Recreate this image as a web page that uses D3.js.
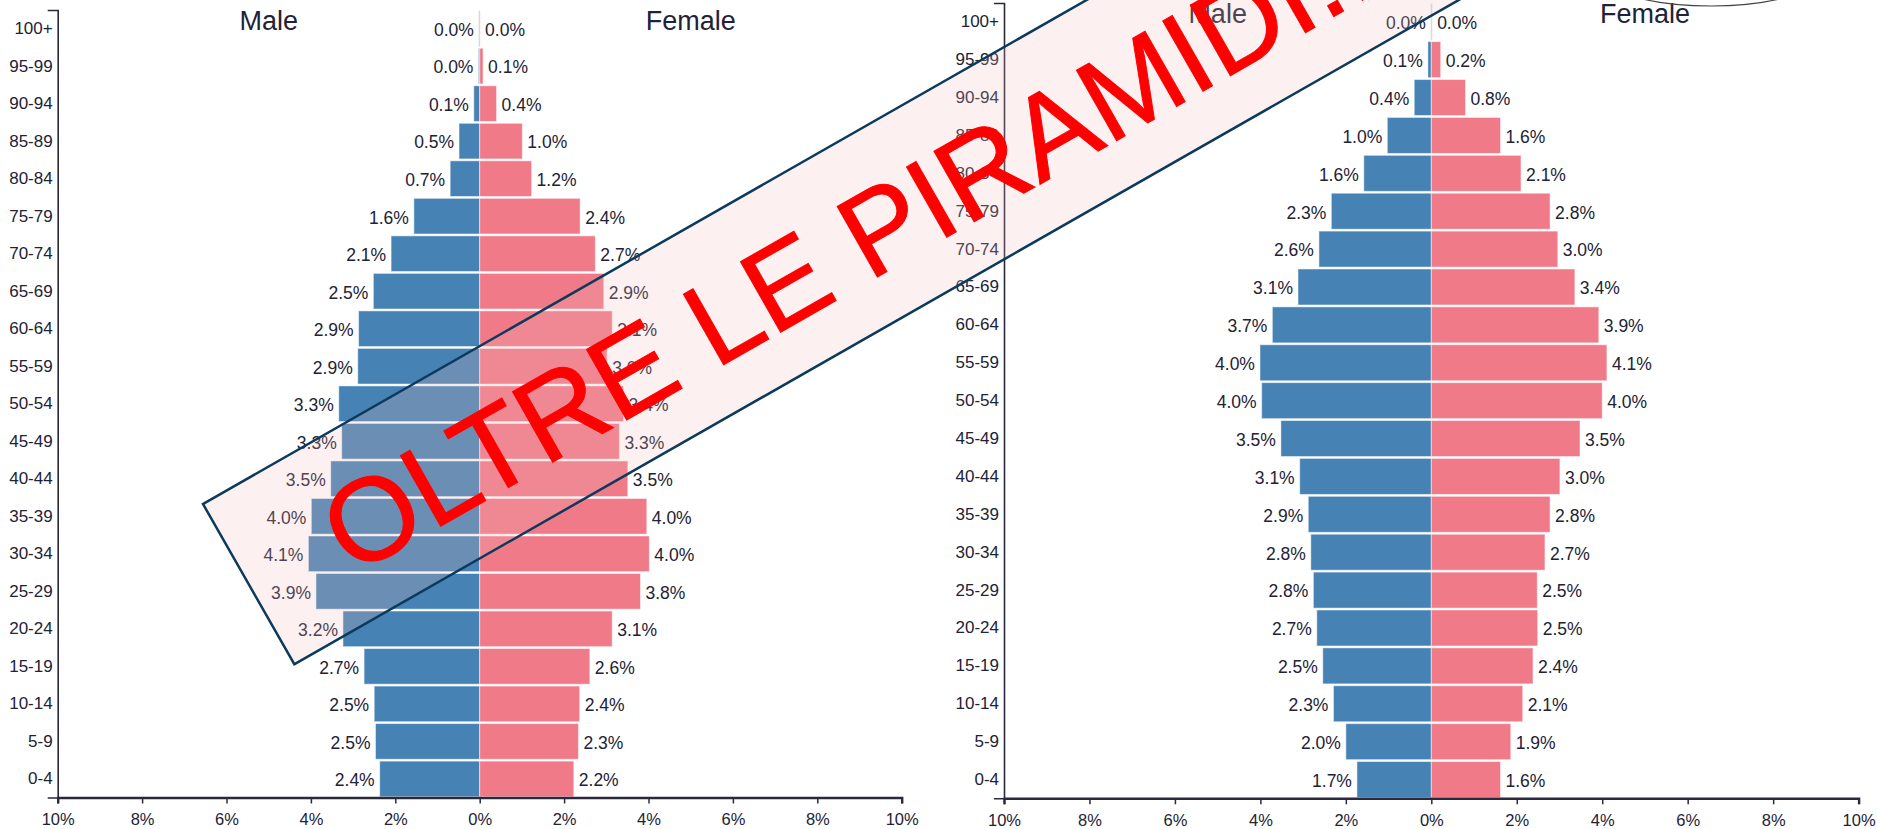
<!DOCTYPE html>
<html>
<head>
<meta charset="utf-8">
<script src="https://cdn.jsdelivr.net/npm/d3@7"></script>
<style>
  body { margin: 0; background: #fff; }
  svg { display: block; font-family: "Liberation Sans", Arial, sans-serif; }
  .axis path, .axis line { stroke: #2a2a3c; }
  .axis text { fill: #222236; }
</style>
</head>
<body>
<div id="chart"></div>
<script>
// age groups, top row first
const ages = ["100+", "95-99", "90-94", "85-89", "80-84", "75-79", "70-74", "65-69",
  "60-64", "55-59", "50-54", "45-49", "40-44", "35-39", "30-34", "25-29",
  "20-24", "15-19", "10-14", "5-9", "0-4"];

// left pyramid (% of population)
const leftMale = [0.02, 0.03, 0.14, 0.49, 0.70, 1.56, 2.10, 2.52, 2.87, 2.89, 3.34,
  3.27, 3.53, 3.99, 4.06, 3.88, 3.24, 2.74, 2.50, 2.47, 2.37];
const leftFemale = [0.01, 0.08, 0.40, 1.01, 1.23, 2.38, 2.74, 2.94, 3.14, 3.02, 3.41,
  3.31, 3.51, 3.96, 4.02, 3.81, 3.14, 2.61, 2.37, 2.34, 2.23];

// right pyramid
const rightMale = [0.01, 0.08, 0.40, 1.03, 1.58, 2.34, 2.63, 3.12, 3.72, 4.01, 3.97,
  3.52, 3.08, 2.88, 2.82, 2.76, 2.68, 2.54, 2.29, 2.00, 1.74];
const rightFemale = [0.02, 0.22, 0.80, 1.62, 2.10, 2.78, 2.96, 3.36, 3.92, 4.11, 4.00,
  3.48, 3.01, 2.78, 2.66, 2.48, 2.49, 2.38, 2.14, 1.86, 1.62];

const xTicks = [-10, -8, -6, -4, -2, 0, 2, 4, 6, 8, 10];
const bannerText = "OLTRE LE PIRAMIDI...";

const W = 1877, H = 829;
const maleColor = "#4682b4", femaleColor = "#f07a88", textColor = "#222236";

const svg = d3.select("#chart").append("svg")
  .attr("width", W)
  .attr("height", H);

const fmt = d3.format(".1f");

function drawPyramid(box, male, female) {
  let g = svg.append("g");

  let x = d3.scaleLinear().domain([-10, 10]).range([box.left, box.right]);
  let y = d3.scaleBand().domain(ages).range([box.top, box.bottom])
    .paddingInner(0.05).paddingOuter(0.02);

  let rows = ages.map((a, i) => ({ age: a, m: male[i], f: female[i] }));

  // male bars
  g.selectAll(".male").data(rows).enter().append("rect")
    .attr("x", d => x(-d.m))
    .attr("y", d => y(d.age))
    .attr("width", d => x(0) - x(-d.m))
    .attr("height", y.bandwidth())
    .attr("fill", maleColor)
    .attr("stroke", "#fff").attr("stroke-opacity", 0.5).attr("stroke-width", 1);

  // female bars
  g.selectAll(".female").data(rows).enter().append("rect")
    .attr("x", x(0))
    .attr("y", d => y(d.age))
    .attr("width", d => x(d.f) - x(0))
    .attr("height", y.bandwidth())
    .attr("fill", femaleColor)
    .attr("stroke", "#fff").attr("stroke-opacity", 0.5).attr("stroke-width", 1);

  // value labels
  g.selectAll(".mlab").data(rows).enter().append("text")
    .attr("x", d => x(-d.m) - 5)
    .attr("y", d => y(d.age) + y.bandwidth() / 2)
    .attr("dy", "0.42em")
    .attr("text-anchor", "end")
    .attr("font-size", 17.5)
    .attr("fill", textColor)
    .text(d => fmt(d.m) + "%");

  g.selectAll(".flab").data(rows).enter().append("text")
    .attr("x", d => x(d.f) + 5)
    .attr("y", d => y(d.age) + y.bandwidth() / 2)
    .attr("dy", "0.42em")
    .attr("font-size", 17.5)
    .attr("fill", textColor)
    .text(d => fmt(d.f) + "%");

  // x axis
  let xAxis = g.append("g")
    .attr("class", "axis")
    .attr("transform", "translate(0," + box.bottom + ")")
    .call(d3.axisBottom(x).tickValues(xTicks).tickSize(6).tickPadding(10)
      .tickFormat(d => Math.abs(d) + "%"));
  xAxis.select(".domain").attr("stroke-width", 2.4);
  xAxis.selectAll(".tick line").attr("stroke-width", 1.5);
  xAxis.selectAll("text").attr("font-size", 16.5).attr("font-family", null);

  // y axis
  let yAxis = g.append("g")
    .attr("class", "axis")
    .attr("transform", "translate(" + box.left + ",0)")
    .call(d3.axisLeft(y).tickSizeInner(0).tickSizeOuter(10).tickPadding(5));
  yAxis.select(".domain").attr("stroke-width", 1.6);
  yAxis.selectAll("text").attr("font-size", 17).attr("font-family", null);

  // titles
  g.append("text")
    .attr("x", x(-5)).attr("y", box.top + 20)
    .attr("text-anchor", "middle")
    .attr("font-size", 27).attr("fill", textColor)
    .text("Male");
  g.append("text")
    .attr("x", x(5)).attr("y", box.top + 20)
    .attr("text-anchor", "middle")
    .attr("font-size", 27).attr("fill", textColor)
    .text("Female");
}

drawPyramid({ left: 57.7, right: 901.7, top: 10, bottom: 797.5 }, leftMale, leftFemale);
drawPyramid({ left: 1004, right: 1858.6, top: 3, bottom: 798.3 }, rightMale, rightFemale);

// bit of an ellipse cut off at the top right
svg.append("ellipse")
  .attr("cx", 1711).attr("cy", -20)
  .attr("rx", 100).attr("ry", 26)
  .attr("fill", "none")
  .attr("stroke", "#444")
  .attr("stroke-width", 1.2);

// rotated banner on top of everything
let banner = svg.append("g")
  .attr("transform", "translate(203,504) rotate(-29.7)");

banner.append("rect")
  .attr("x", 0).attr("y", 0)
  .attr("width", 1500).attr("height", 184.4)
  .attr("fill", "rgb(240,188,186)")
  .attr("fill-opacity", 0.22)
  .attr("stroke", "#0b3a5c")
  .attr("stroke-width", 2.5);

banner.append("text")
  .attr("x", 94).attr("y", 137)
  .attr("font-size", 118)
  .attr("fill", "#ff0000")
  .attr("stroke", "#ff0000")
  .attr("stroke-width", 1)
  .text(bannerText);
</script>
</body>
</html>
